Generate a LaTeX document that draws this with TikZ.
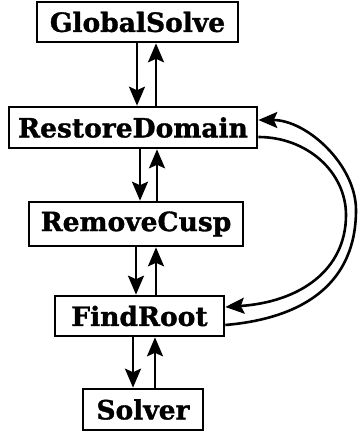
\documentclass[tikz,border=0pt]{standalone}
\usepackage{fontspec}
\setmainfont{DejaVu Serif}
\newfontfamily\heavyfont[FakeBold=1.2]{DejaVu Serif Bold}
\usetikzlibrary{arrows.meta}
\begin{document}
\begin{tikzpicture}[x=1pt,y=1pt,
  box/.style={draw,line width=2.6pt,inner sep=0pt,font=\heavyfont\fontsize{26.5}{30}\selectfont},
  arr/.style={line width=2.6pt,-{Stealth[length=19pt,width=16pt,inset=3.5pt]}}]
\useasboundingbox (0,0) rectangle (358,432);
\node[box,minimum width=201pt,minimum height=40pt] (gs) at (137.5,410) {GlobalSolve};
\node[box,minimum width=248pt,minimum height=41pt] (rd) at (133,304.5) {RestoreDomain};
\node[box,minimum width=214pt,minimum height=44pt] (rc) at (136,208) {RemoveCusp};
\node[box,minimum width=169pt,minimum height=40pt] (fr) at (139.5,116) {FindRoot};
\node[box,minimum width=120pt,minimum height=41pt] (sv) at (143,22.5) {Solver};
\draw[arr] ([xshift=-0.5pt]gs.south) -- ([xshift=4pt]rd.north);
\draw[arr] ([xshift=23pt]rd.north) -- ([xshift=18.5pt]gs.south);
\draw[arr] ([xshift=7pt]rd.south) -- ([xshift=4pt]rc.north);
\draw[arr] ([xshift=21pt]rc.north) -- ([xshift=24pt]rd.south);
\draw[arr] ([xshift=0pt]rc.south) -- ([xshift=-3.5pt]fr.north);
\draw[arr] ([xshift=16.5pt]fr.north) -- ([xshift=20pt]rc.south);
\draw[arr] ([xshift=-6.5pt]fr.south) -- ([xshift=-10pt]sv.north);
\draw[arr] ([xshift=12pt]sv.north) -- ([xshift=15.5pt]fr.south);
\draw[arr] ([yshift=-9pt]fr.east) .. controls (307,114) and (356,151) .. (356,222)
  .. controls (356,267) and (307,312) .. ([yshift=7.5pt]rd.east);
\draw[arr] ([yshift=-9.5pt]rd.east) .. controls (307,295) and (346,260) .. (346,217)
  .. controls (346,162) and (300,130) .. ([yshift=9pt]fr.east);
\end{tikzpicture}
\end{document}
